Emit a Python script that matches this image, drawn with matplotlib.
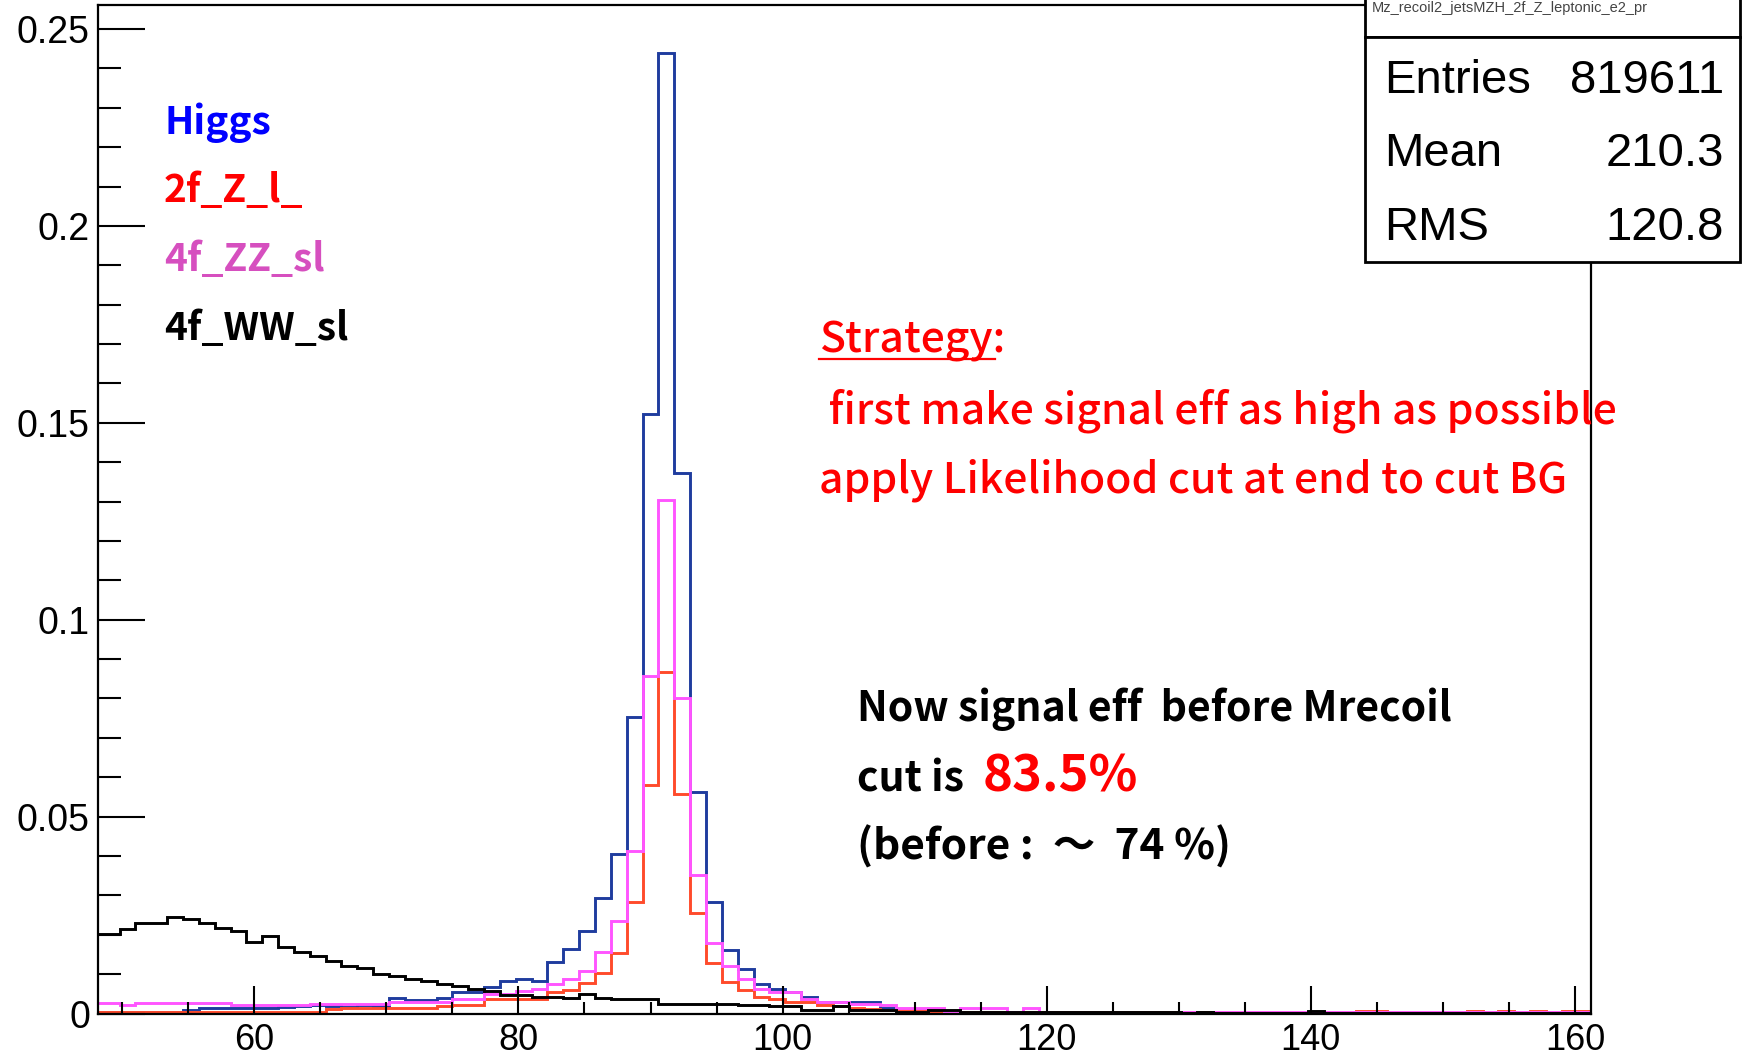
import numpy as np
import matplotlib
matplotlib.use('Agg')
from matplotlib import pyplot as plt
from matplotlib.patches import Rectangle
from matplotlib.lines import Line2D
from matplotlib.ticker import MultipleLocator

W, H = 1742, 1060

# recoil mass binning (GeV)
bin_lo = 47.4
bin_width = 1.2
n_bins = 95

higgs = [0.0003, 0.0003, 0.0003, 0.0004, 0.0003, 0.0004, 0.0009, 0.0013, 0.0013, 0.0013,
         0.0013, 0.0013, 0.0016, 0.0018, 0.0021, 0.0020, 0.0017, 0.0021, 0.0020, 0.0039,
         0.0035, 0.0035, 0.0039, 0.0054, 0.0054, 0.0068, 0.0083, 0.0088, 0.0083, 0.0132,
         0.0164, 0.0210, 0.0293, 0.0405, 0.0753, 0.1523, 0.2440, 0.1373, 0.0563, 0.0284,
         0.0162, 0.0113, 0.0075, 0.0062, 0.0055, 0.0041, 0.0030, 0.0030, 0.0028, 0.0028,
         0.0013, 0.0010, 0.0008, 0.0007, 0.0006, 0.0005, 0.0005, 0.0004, 0.0004, 0.0004,
         0.0003, 0.0003, 0.0003, 0.0003, 0.0003, 0.0003, 0.0003, 0.0003, 0.0003, 0.0003,
         0.0002, 0.0002, 0.0002, 0.0002, 0.0002, 0.0002, 0.0002, 0.0002, 0.0002, 0.0002,
         0.0002, 0.0002, 0.0002, 0.0002, 0.0002, 0.0002, 0.0002, 0.0002, 0.0002, 0.0002,
         0.0002, 0.0002, 0.0002, 0.0002, 0.0002]

zl_2f = [0.0004, 0.0004, 0.0004, 0.0004, 0.0004, 0.0004, 0.0004, 0.0004, 0.0004, 0.0004,
         0.0004, 0.0004, 0.0004, 0.0004, 0.0004, 0.0012, 0.0013, 0.0013, 0.0013, 0.0013,
         0.0014, 0.0014, 0.0020, 0.0021, 0.0021, 0.0037, 0.0037, 0.0037, 0.0037, 0.0055,
         0.0060, 0.0077, 0.0103, 0.0154, 0.0283, 0.0581, 0.0868, 0.0558, 0.0255, 0.0127,
         0.0079, 0.0060, 0.0041, 0.0037, 0.0030, 0.0028, 0.0022, 0.0020, 0.0015, 0.0012,
         0.0010, 0.0008, 0.0007, 0.0006, 0.0006, 0.0005, 0.0005, 0.0004, 0.0004, 0.0004,
         0.0003, 0.0003, 0.0003, 0.0003, 0.0003, 0.0003, 0.0003, 0.0003, 0.0003, 0.0003,
         0.0003, 0.0003, 0.0003, 0.0003, 0.0003, 0.0003, 0.0003, 0.0003, 0.0003, 0.0003,
         0.0006, 0.0006, 0.0003, 0.0003, 0.0003, 0.0003, 0.0003, 0.0006, 0.0003, 0.0006,
         0.0003, 0.0006, 0.0003, 0.0006, 0.0006]

zz_sl = [0.0027, 0.0027, 0.0021, 0.0027, 0.0027, 0.0027, 0.0027, 0.0027, 0.0027, 0.0022,
         0.0022, 0.0022, 0.0022, 0.0022, 0.0025, 0.0025, 0.0024, 0.0025, 0.0025, 0.0028,
         0.0028, 0.0028, 0.0028, 0.0037, 0.0037, 0.0050, 0.0050, 0.0058, 0.0062, 0.0074,
         0.0088, 0.0108, 0.0155, 0.0236, 0.0413, 0.0856, 0.1303, 0.0800, 0.0351, 0.0180,
         0.0120, 0.0088, 0.0062, 0.0054, 0.0054, 0.0037, 0.0028, 0.0028, 0.0024, 0.0024,
         0.0022, 0.0013, 0.0013, 0.0013, 0.0005, 0.0013, 0.0013, 0.0013, 0.0005, 0.0013,
         0.0002, 0.0002, 0.0002, 0.0002, 0.0002, 0.0002, 0.0002, 0.0002, 0.0002, 0.0005,
         0.0002, 0.0005, 0.0005, 0.0005, 0.0005, 0.0005, 0.0005, 0.0002, 0.0005, 0.0005,
         0.0003, 0.0005, 0.0005, 0.0005, 0.0005, 0.0005, 0.0005, 0.0005, 0.0003, 0.0005,
         0.0005, 0.0003, 0.0005, 0.0003, 0.0003]

ww_sl = [0.0201, 0.0203, 0.0214, 0.0230, 0.0230, 0.0244, 0.0240, 0.0231, 0.0217, 0.0210,
         0.0182, 0.0196, 0.0168, 0.0155, 0.0145, 0.0134, 0.0121, 0.0115, 0.0100, 0.0095,
         0.0088, 0.0082, 0.0074, 0.0070, 0.0063, 0.0056, 0.0048, 0.0047, 0.0042, 0.0043,
         0.0039, 0.0049, 0.0039, 0.0037, 0.0037, 0.0036, 0.0024, 0.0025, 0.0023, 0.0024,
         0.0023, 0.0022, 0.0021, 0.0020, 0.0019, 0.0010, 0.0010, 0.0018, 0.0010, 0.0010,
         0.0010, 0.0005, 0.0005, 0.0010, 0.0010, 0.0004, 0.0004, 0.0004, 0.0004, 0.0004,
         0.0004, 0.0004, 0.0004, 0.0004, 0.0004, 0.0004, 0.0004, 0.0004, 0.0004, 0.0001,
         0.0005, 0.0001, 0.0001, 0.0001, 0.0001, 0.0001, 0.0001, 0.0006, 0.0001, 0.0001,
         0.0001, 0.0001, 0.0001, 0.0001, 0.0001, 0.0001, 0.0001, 0.0001, 0.0001, 0.0001,
         0.0001, 0.0001, 0.0001, 0.0001, 0.0001]

names = ['Higgs', '2f_Z_l_', '4f_ZZ_sl', '4f_WW_sl']
line_colors = ['#1f3c9e', '#ff4b2b', '#ff55ff', '#000000']
label_colors = ['#0000ff', '#ff0000', '#d64fbf', '#000000']

xticks = [60, 80, 100, 120, 140, 160]
yticks = [0, 0.05, 0.1, 0.15, 0.2, 0.25]
ytick_labels = ['0', '0.05', '0.1', '0.15', '0.2', '0.25']

stats_names = ['Entries', 'Mean', 'RMS']
stats_values = ['819611', '210.3', '120.8']
hist_title = 'Mz_recoil2_jetsMZH_2f_Z_leptonic_e2_pr'

strategy_lines = [' first make signal eff as high as possible',
                  'apply Likelihood cut at end to cut BG']
eff_now = '83.5%'

jp_font = ['Noto Sans CJK JP', 'DejaVu Sans']
root_font = ['Liberation Sans', 'DejaVu Sans']


def fxy(px, py):
    # pixel position (from top-left) -> figure fraction
    return px / W, 1 - py / H


fig = plt.figure(figsize=(W / 100, H / 100), dpi=100)
fig.patch.set_facecolor('white')
ax = fig.add_axes([98.3 / W, 1 - 1013.5 / H, (1591 - 98.3) / W, (1013.5 - 5) / H])

edges = bin_lo + bin_width * np.arange(n_bins + 1)
for vals, c in zip([higgs, zl_2f, zz_sl, ww_sl], line_colors):
    ax.stairs(vals, edges, color=c, lw=2.1)

ax.set_xlim(48.19, 161.21)
ax.set_ylim(0, 0.2561)
ax.set_xticks(xticks)
ax.set_xticklabels([str(t) for t in xticks])
ax.xaxis.set_minor_locator(MultipleLocator(5))
ax.set_yticks(yticks)
ax.set_yticklabels(ytick_labels)
ax.yaxis.set_minor_locator(MultipleLocator(0.01))
ax.tick_params(axis='x', which='major', direction='in', length=20, width=1.5, labelsize=26, pad=7)
ax.tick_params(axis='x', which='minor', direction='in', length=8.6, width=1.5)
ax.tick_params(axis='y', which='major', direction='in', length=34, width=1.5, labelsize=27, pad=6)
ax.tick_params(axis='y', which='minor', direction='in', length=16.5, width=1.5)
for lab in ax.get_xticklabels() + ax.get_yticklabels():
    lab.set_family(root_font)
for sp in ax.spines.values():
    sp.set_linewidth(1.6)

# legend written as coloured labels
for name, col, yb in zip(names, label_colors, [134, 202, 271, 340]):
    fig.text(*fxy(164, yb), name, color=col, fontsize=28, fontweight='bold',
             family=jp_font, va='baseline')

# strategy note
fig.text(*fxy(819, 353), 'Strategy:', color='red', fontsize=30.7, fontweight='medium',
         family=jp_font, va='baseline')
fig.add_artist(Line2D([819 / W, 995 / W], [1 - 359 / H] * 2, color='red', lw=1.6,
                      transform=fig.transFigure))
fig.text(*fxy(819, 423), strategy_lines[0], color='red', fontsize=30.7, fontweight='medium',
         family=jp_font, va='baseline')
fig.text(*fxy(819, 492), strategy_lines[1], color='red', fontsize=30.7, fontweight='medium',
         family=jp_font, va='baseline')

# efficiency note
fig.text(*fxy(857, 721), 'Now signal eff  before Mrecoil', color='black', fontsize=29.5,
         fontweight='bold', family=jp_font, va='baseline')
fig.text(*fxy(857, 791), 'cut is', color='black', fontsize=29.5, fontweight='bold',
         family=jp_font, va='baseline')
fig.text(*fxy(983, 791), eff_now, color='red', fontsize=36.5, fontweight='bold',
         family=jp_font, va='baseline')
fig.text(*fxy(857, 860), '(before :  ～  74 %)', color='black', fontsize=30.5,
         fontweight='bold', family=jp_font, va='baseline')

# stats box
title_box = Rectangle((1365 / W, 1 - 37 / H), (1740 - 1365) / W, 40 / H, facecolor='white',
                      edgecolor='black', lw=2, transform=fig.transFigure, zorder=5)
stats_box = Rectangle((1365 / W, 1 - 262 / H), (1740 - 1365) / W, (262 - 37) / H, facecolor='white',
                      edgecolor='black', lw=2, transform=fig.transFigure, zorder=5)
fig.add_artist(title_box)
fig.add_artist(stats_box)
fig.text(*fxy(1372, 12), hist_title, color='#444444', fontsize=10.5, family=root_font,
         va='baseline', zorder=6)
for nm, val, yb in zip(stats_names, stats_values, [93, 166, 240]):
    fig.text(*fxy(1384, yb), nm, fontsize=34, family=root_font, va='baseline', zorder=6)
    fig.text(*fxy(1724, yb), val, fontsize=34, family=root_font, va='baseline', ha='right', zorder=6)

fig.savefig('out.png', dpi=100)
